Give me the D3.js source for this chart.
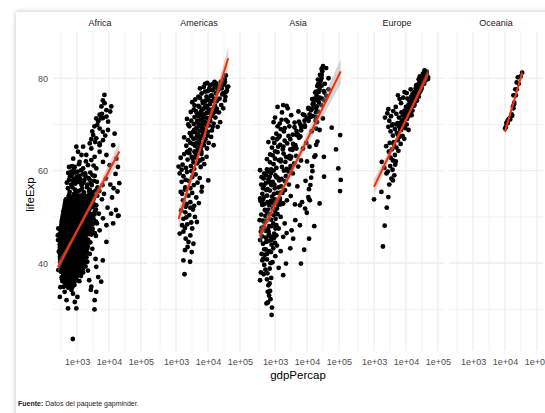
<!DOCTYPE html>
<html>
<head>
<meta charset="utf-8">
<script src="https://cdn.jsdelivr.net/npm/d3@7"></script>
<style>
  body { margin: 0; background: #fff; font-family: "Liberation Sans", Arial, sans-serif; overflow: hidden; }
  #card { position: absolute; left: 16px; top: 12px; width: 580px; height: 440px; background: #fff; box-shadow: 0 0 5px rgba(0,0,0,0.25); }
  #chart { position: absolute; left: 0; top: 0; }
</style>
</head>
<body>
<div id="card"></div>
<div id="chart"></div>
<script>
// gapminder: [gdpPercap, lifeExp]
const continents = ["Africa", "Americas", "Asia", "Europe", "Oceania"];

const africa = [
  [7200,76.4],[6400,75.2],[7300,74.6],[5800,73.9],[8300,73.1],[11800,73.9],[5100,72.1],[6500,71.4],[4000,71.3],[4600,70.7],[8300,71.7],[9400,70.6],[10900,72.8],[6000,72.3],[5600,71.3],
  [3500,69.6],[5100,69.1],[6400,68.4],[3200,67.7],[4000,67.0],[6500,66.6],[9300,68.8],[15000,68.0],[2500,65.9],[5100,65.5],[3000,68.5],[4300,69.9],[2800,66.8],[7600,67.6],[3700,66.2],
  [950,65.2],[1550,65.2],[1070,64.1],[1950,63.4],[2800,64.8],[5100,64.1],[8300,63.4],[13500,65.5],[17000,62.6],[19000,60.8],[10500,61.2],[760,62.6],[1200,61.9],[660,59.8],[3550,63.0],[6500,61.9],[2200,61.2],[850,60.8],[1550,60.5],[4000,60.5],[2800,62.3],[1380,63.4],[5100,65.9],
  [530,59.5],[600,58.7],[700,59.1],[800,58.2],[900,59.6],[1000,57.8],[1150,58.9],[1300,57.4],[1500,59.2],[1700,58.0],[2300,58.4],[2700,57.2],[3100,59.0],[4200,57.6],[6300,56.9],[8000,58.3],[16000,59.3],[21000,57.3],[18500,55.5],[14000,56.2],[5000,55.6],[7000,55.0],[11000,57.0],[4400,56.4],
  [480,57.4],[560,58.0],[650,57.0],[740,57.8],[880,57.2],[960,58.6],[1100,57.6],[1250,58.2],[1400,56.8],[1600,57.4],[1850,58.8],[2100,57.0],[2500,58.0],[2900,56.9],[3400,57.8],[620,59.6],[780,60.2],[1050,59.8],[1350,60.1],[1800,59.4],[2600,59.6],[3600,58.9],[700,61.0],[1150,61.4],[1900,62.0],[560,60.8],[3300,61.1],
  [520,56.2],[720,56.4],[860,55.9],[1200,55.7],[1430,56.1],[2050,56.4],[2500,55.9],[3800,55.7],
  [590,55.4],[980,55.6],[1650,55.3],[2400,55.5],[3000,55.3],
  [570,54.7],[800,54.9],[950,55.3],[1130,54.6],[1600,54.8],[2350,54.7],[3500,54.6],
  [555,54.6],[660,54.3],[780,54.5],[930,54.7],[1100,54.3],[1310,54.6],[1570,54.4],[1900,54.5],[2300,54.3],[2800,54.6],
  [450,53.8],[540,54.2],[640,53.7],[760,54.1],[900,53.6],[1080,54.0],[1280,53.7],[1530,54.2],[1850,53.8],[2250,54.1],[2750,53.6],[3300,53.9],
  [435,53.4],[520,53.6],[620,53.3],[735,53.5],[875,53.7],[1040,53.4],[1240,53.5],[1490,53.3],[1800,53.6],[2200,53.4],[2700,53.5],
  [420,52.9],[500,53.2],[600,52.7],[710,53.1],[850,52.8],[1010,53.3],[1210,52.6],[1450,53.0],[1750,52.7],[2150,53.2],[2650,52.8],[3200,53.0],
  [410,52.4],[485,52.6],[580,52.3],[690,52.5],[825,52.7],[985,52.4],[1180,52.5],[1410,52.3],[1700,52.6],[2080,52.4],[2550,52.5],[3700,52.6],
  [400,51.9],[470,52.2],[560,51.7],[670,52.1],[800,51.8],[960,52.3],[1150,51.6],[1380,52.0],[1660,51.7],[2000,52.2],[2450,51.8],[3050,52.1],
  [385,51.4],[455,51.6],[545,51.3],[650,51.5],[775,51.6],[930,51.3],[1110,51.5],[1340,51.4],[1610,51.6],[1950,51.3],[2380,51.5],
  [370,51.1],[440,50.8],[530,51.2],[630,50.7],[750,51.0],[900,50.6],[1080,51.2],[1300,50.8],[1560,51.1],[1900,50.7],[2300,51.0],[2900,50.6],[3600,51.2],
  [360,50.4],[430,50.6],[515,50.3],[615,50.5],[730,50.6],[875,50.4],[1050,50.5],[1265,50.3],[1520,50.6],[1850,50.4],[2250,50.5],[2820,50.3],[3500,50.5],
  [350,49.9],[420,50.2],[500,49.7],[600,50.1],[710,49.8],[850,50.3],[1020,49.6],[1230,50.0],[1480,49.7],[1800,50.2],[2200,49.8],[2750,50.1],
  [340,49.4],[410,49.6],[490,49.3],[585,49.5],[695,49.6],[830,49.4],[995,49.5],[1200,49.3],[1445,49.6],[1750,49.4],[2150,49.5],[2680,49.3],[3320,49.5],
  [330,49.0],[400,48.7],[480,49.2],[570,48.8],[680,49.1],[810,48.6],[970,49.0],[1170,48.7],[1410,49.2],[1700,48.8],[2100,49.1],[2600,48.6],[3900,49.0],
  [325,48.4],[392,48.6],[470,48.3],[560,48.5],[665,48.6],[795,48.4],[950,48.5],[1145,48.3],[1380,48.6],[1665,48.4],[2050,48.5],[2550,48.3],[3170,48.5],
  [320,47.8],[385,48.1],[460,47.7],[550,48.2],[650,47.9],[780,48.3],[930,47.6],[1120,48.0],[1350,47.7],[1630,48.2],[2000,47.8],[2500,48.1],
  [315,47.4],[378,47.6],[450,47.3],[538,47.5],[640,47.6],[765,47.4],[915,47.5],[1100,47.3],[1325,47.6],[1600,47.4],[1960,47.5],[2450,47.3],[3050,47.5],
  [310,47.1],[370,46.8],[440,47.2],[525,46.7],[630,47.0],[750,46.6],[900,47.2],[1080,46.8],[1300,47.1],[1570,46.7],[1920,47.0],[2400,46.6],[3000,47.2],
  [305,46.4],[365,46.6],[435,46.3],[518,46.5],[620,46.6],[740,46.4],[885,46.5],[1065,46.3],[1280,46.6],[1545,46.4],[1885,46.5],[2350,46.3],
  [300,46.0],[360,46.3],[430,45.8],[510,46.2],[610,45.9],[730,46.4],[870,45.7],[1050,46.1],[1260,45.8],[1520,46.3],[1850,45.9],[2800,46.2],
  [298,45.4],[355,45.6],[425,45.3],[505,45.5],[600,45.6],[720,45.4],[860,45.5],[1035,45.3],[1245,45.6],[1500,45.4],[1825,45.5],
  [295,44.9],[350,45.2],[420,44.7],[500,45.1],[590,44.8],[710,45.3],[850,44.6],[1020,45.0],[1230,44.7],[1480,45.2],[1800,44.8],[2200,45.1],
  [345,44.6],[415,44.3],[492,44.5],[585,44.6],[700,44.4],[840,44.5],[1005,44.3],[1210,44.6],[1460,44.4],[1775,44.5],[2175,44.3],
  [290,44.1],[340,43.8],[410,44.2],[485,43.7],[580,44.0],[690,43.6],[830,44.2],[990,43.8],[1190,44.1],[1440,43.7],[1750,44.0],[2150,43.6],
  [290,43.4],[338,43.6],[405,43.3],[480,43.5],[572,43.6],[682,43.4],[820,43.5],[980,43.3],[1175,43.6],[1420,43.4],[1725,43.5],
  [290,42.9],[335,43.2],[400,42.7],[475,43.1],[565,42.8],[675,43.3],[810,42.6],[970,43.0],[1160,42.7],[1400,43.2],[1700,42.8],[2080,43.1],
  [332,42.6],[398,42.3],[472,42.5],[560,42.6],[668,42.4],[800,42.5],[960,42.3],[1150,42.6],[1385,42.4],[1675,42.5],[2040,42.3],
  [290,42.1],[330,41.8],[395,42.2],[470,41.7],[555,42.0],[660,41.6],[790,42.2],[950,41.8],[1140,42.1],[1370,41.7],[1650,42.0],
  [292,41.4],[332,41.6],[395,41.3],[468,41.5],[552,41.6],[655,41.4],[785,41.5],[940,41.3],[1125,41.6],[1355,41.4],[1635,41.5],[1975,41.3],
  [295,40.9],[335,41.2],[395,40.7],[465,41.1],[550,40.8],[650,41.3],[780,40.6],[930,41.0],[1110,40.7],[1340,41.2],[1620,40.8],
  [298,40.4],[338,40.6],[398,40.3],[468,40.5],[550,40.6],[650,40.4],[775,40.5],[925,40.3],[1100,40.6],[1320,40.4],[1600,40.5],[1925,40.3],
  [300,40.1],[340,39.8],[400,40.2],[470,39.7],[550,40.0],[650,39.6],[770,40.2],[920,39.8],[1090,40.1],[1300,39.7],[1580,40.0],
  [305,39.4],[345,39.6],[405,39.3],[475,39.5],[555,39.6],[655,39.4],[775,39.5],[920,39.3],[1085,39.6],[1290,39.4],[1555,39.5],[1850,39.3],
  [310,38.9],[350,39.2],[410,38.7],[480,39.1],[560,38.8],[660,39.3],[780,38.6],[920,39.0],[1080,38.7],[1280,39.2],[1530,38.8],
  [315,38.4],[360,38.6],[420,38.3],[490,38.5],[570,38.6],[670,38.4],[790,38.5],[930,38.3],[1090,38.6],[1290,38.4],
  [320,38.1],[370,37.8],[430,38.2],[500,37.7],[580,38.0],[680,37.6],[800,38.2],[940,37.8],[1100,38.1],[1300,37.7],[1550,38.0],
  [380,37.6],[440,37.3],[510,37.5],[590,37.6],[690,37.4],[810,37.5],[950,37.3],[1110,37.6],
  [330,36.9],[390,37.2],[450,36.7],[520,37.1],[600,36.8],[700,37.3],[820,36.6],[960,37.0],[1330,37.2],
  [400,36.6],[465,36.3],[535,36.5],[620,36.6],[720,36.4],[840,36.5],[980,36.3],
  [350,36.1],[410,35.8],[480,36.2],[550,35.7],[640,36.0],[740,35.6],[860,36.2],[1180,36.1],
  [380,34.9],[450,35.2],[530,34.7],[610,35.1],[710,34.8],[830,35.3],
  [4000,52.5],[4800,50.7],[6000,53.8],[9000,52.0],[12500,54.2],[20000,50.3],[16500,51.5],[19000,50.2],[11700,50.7],[4300,54.6],[3900,51.6],
  [6500,49.7],[8300,48.2],[13500,48.6],[5100,47.1],[3900,45.9],[4200,48.6],[3600,46.5],[260,47.5],[250,46.0],[255,45.0],[290,46.4],
  [8300,44.6],[6400,40.6],[3000,43.1],[3800,40.9],[2600,44.5],[2500,42.0],
  [4000,39.2],[4600,37.0],[5700,36.0],[2800,34.9],[2200,38.4],[2400,36.3],[2100,40.3],
  [290,32.7],[470,32.0],[525,30.2],[950,30.2],[850,31.6],[3550,32.0],[3520,30.0],[4000,33.8],[410,33.8],[750,33.4],[670,34.2],[300,34.8],[1030,32.7],[2700,34.2],[340,36.5],[260,38.5],[270,42.5],
  [737,23.6]
];

const americas = [
  [36300,80.6],[33300,79.8],[8100,78.8],[9500,79.0],[11500,78.5],[16000,79.2],[19500,78.1],[33900,79.2],[39800,78.1],[42900,78.2],[39000,77.3],[36300,77.0],
  [5600,77.8],[6300,76.7],[5000,76.0],[8100,77.1],[14200,77.4],[17800,76.7],[24500,78.4],[11000,77.8],[7400,78.1],[13000,76.3],[9000,76.0],[15500,75.6],[33900,75.2],[35000,76.0],[28000,76.5],[22000,77.6],
  [2900,72.7],[3200,74.8],[3600,73.2],[4000,75.4],[4500,72.4],[5000,74.0],[5600,75.7],[6300,73.0],[7000,74.6],[7800,72.2],[8700,75.2],[9600,73.6],[10500,72.6],[11600,74.4],[13000,73.2],[14600,72.4],[16500,74.0],[19000,73.4],[22000,72.6],[26000,74.2],[30000,73.5],[4200,72.9],[6600,72.1],[5400,73.8],[8200,73.8],[3800,74.1],[12000,75.0],[9000,72.5],[20000,75.4],
  [2200,71.2],[2600,69.6],[3000,70.8],[3400,68.4],[3800,71.6],[4300,69.2],[4800,70.4],[5400,68.6],[6000,71.0],[6700,69.4],[7500,70.6],[8400,68.9],[9400,71.4],[10500,69.8],[11800,70.8],[13200,68.7],[15000,70.2],[17000,71.5],[20000,69.5],[24000,70.5],[2700,68.1],[3600,70.1],[5100,71.8],[7100,68.2],[9000,69.9],[4000,68.3],[6200,70.0],[12500,71.8],[2400,70.0],
  [1800,67.2],[2100,65.4],[2400,66.6],[2700,64.5],[3000,67.5],[3400,65.8],[3800,64.2],[4200,67.0],[4700,65.0],[5300,66.3],[5900,64.7],[6600,67.6],[7400,65.5],[8300,66.8],[9300,64.8],[10500,66.0],[12500,67.3],[15000,65.5],[2300,64.1],[3500,66.9],[5000,67.8],[6200,64.1],[4400,66.0],[2800,66.0],
  [3100,63.0],[4300,62.8],[5600,62.2],[3500,61.8],[4800,64.4],[6200,63.6],[7000,65.8],[3900,65.4],[5600,65.6],[4500,67.4],[5800,67.0],[7600,66.4],[9800,67.6],[3700,68.8],[5000,69.6],[6400,68.8],[8000,70.2],[10000,68.4],[4600,70.8],[7000,71.4],[8800,70.4],[11000,71.1],[14000,69.5],[5900,72.6],[7300,73.4],[9200,74.0],[10800,73.0],[12800,72.0],[15500,73.7],[17500,72.8],[6800,75.0],[8000,74.9],[10200,75.4],[12200,76.2],[14000,75.1],[18500,75.0],[23000,75.6],[9800,77.2],[12300,77.5],[16200,78.0],[20500,77.3],[27000,77.8],[31000,78.6],[25000,79.2],[30000,76.8],[18000,78.9],[14000,78.7],
  [1201,60.9],[1400,62.8],[1600,61.3],[1800,63.6],[2050,60.6],[2300,62.4],[2600,63.8],[2900,61.0],[3300,62.6],[3700,60.4],[4100,63.2],[4600,61.6],[5200,63.9],[5900,60.8],[6700,62.5],[7600,61.4],[9000,63.0],[2200,64.0],[3900,64.0],[1500,60.2],
  [1300,59.4],[1500,57.6],[1700,58.8],[1950,56.4],[2200,59.7],[2500,57.8],[2800,56.2],[3200,58.6],[3600,56.9],[4100,59.2],[4700,57.4],[5500,58.4],[10200,57.9],[2000,58.0],[3000,59.9],[6500,56.5],
  [1400,55.4],[1650,53.6],[1900,55.9],[2150,52.8],[2450,54.6],[2800,53.2],[3200,55.2],[3700,52.4],[4300,54.2],[5200,53.0],[6300,55.5],[2000,52.2],[1550,55.0],
  [1450,51.4],[1700,49.6],[1950,51.0],[2250,48.4],[2600,50.4],[3000,48.8],[3400,51.6],[3900,50.0],[4500,48.9],[2100,49.9],[1550,48.2],[2800,52.0],
  [1300,46.4],[1700,46.8],[2000,45.3],[2450,44.6],[3500,44.2],[1900,47.6],[2800,46.0],[3200,47.5],
  [1900,42.8],[3100,42.4],[1700,40.6],[2750,40.3],[1840,37.6],[2300,43.5]
];

const asia = [
  [3217,63.0],[4318,65.5],[6577,68.7],[9848,71.4],[14779,73.4],[16610,75.4],[19384,77.1],[22376,78.7],[26825,79.4],[28817,80.7],[28605,82.0],[31656,82.6],
  [3054,61.0],[3629,64.8],[4693,67.7],[6198,70.0],[8316,72.0],[11186,73.6],[14561,75.5],[20038,76.2],[24758,77.6],[28378,80.0],[30209,81.5],[39725,82.2],
  [2315,60.4],[2843,63.2],[3675,65.8],[4977,67.9],[8597,69.5],[11210,70.8],[15169,71.8],[18862,73.6],[24769,75.8],[33519,77.2],[36023,78.8],[47143,80.0],
  [108382,55.6],[113523,58.0],[95458,60.5],[80895,64.6],[109348,67.7],[59265,69.3],[31354,71.3],[28118,74.2],[34932,75.2],[40301,76.2],[35110,76.9],[47307,77.6],
  [6460,39.9],[8157,42.9],[11626,45.3],[16903,48.0],[24837,52.9],[34168,58.7],[33693,63.0],[21199,66.3],[24841,68.8],[20586,70.5],[19014,71.6],[21655,72.8],
  [9867,50.9],[11636,53.8],[12753,56.9],[14805,59.9],[18269,63.3],[19340,65.6],[19211,69.1],[18524,70.8],[19036,72.6],[20292,73.9],[23404,74.8],[29796,75.6],
  [4087,65.4],[5127,67.8],[6680,69.4],[8394,70.8],[12787,71.6],[13306,73.1],[15367,74.5],[17122,75.6],[18051,76.9],[20897,78.3],[21906,79.7],[25523,80.7],
  [1031,47.5],[1488,52.7],[1536,55.3],[2029,57.7],[3031,62.6],[4657,64.8],[5623,67.1],[8533,69.8],[12104,72.2],[15994,74.6],[19234,77.0],[23348,78.6],
  [1207,58.5],[1508,62.4],[1823,65.2],[2644,67.5],[4063,69.4],[5597,70.6],[7426,72.2],[11054,73.4],[15216,74.3],[20207,75.3],[23235,77.0],[28718,78.4],
  [11000,54.3],[12300,53.6],[6000,52.5],[8700,51.8],[4300,49.3],[6000,48.2],[3300,47.1],[1800,45.7],[3700,45.3],[3000,43.2],[2200,39.9],[1800,37.4],
  [14000,68.5],[12000,65.2],[17000,63.0],[14500,61.0],[13500,58.5],[10000,62.0],[9500,66.0],[11500,56.0],
  [1000,71.5],[1200,73.8],[1400,70.2],[1650,72.6],[1900,68.5],[2200,71.0],[2500,73.5],[2800,69.6],[3200,72.0],[3600,67.8],[4100,70.4],[4700,68.6],[5400,72.8],[6200,67.4],[1100,68.0],[1300,67.2],[1800,74.2],[2300,74.0],[3000,66.8],[900,70.5],[1500,69.0],
  [620,66.2],[700,63.5],[800,65.0],[900,61.4],[1000,64.2],[1150,66.8],[1300,62.3],[1450,65.6],[1650,60.8],[1850,63.7],[2100,61.9],[2400,65.9],[2700,62.8],[3100,60.5],[3500,64.5],[4000,61.6],[4600,63.2],[5300,60.9],[6500,62.2],[7500,64.8],[750,60.3],[1100,60.6],[560,62.5],[1250,65.2],[2000,66.5],[850,67.0],
  [700,61.8],[850,63.3],[1000,62.6],[1200,64.0],[1500,62.0],[1750,64.6],[950,66.0],[1200,69.6],[1600,71.0],[2000,69.2],[2500,70.6],[1400,67.5],[2200,63.0],[3000,64.6],[2600,59.8],[1900,60.0],
  [340,60.1],[380,58.6],[420,56.2],[460,59.4],[510,57.3],[560,54.6],[620,58.1],[690,55.7],[760,53.4],[840,57.6],[930,55.0],[1030,59.0],[1150,53.2],[1280,56.4],[1420,54.0],[1600,58.2],[1800,52.9],[2050,55.8],[2350,53.6],[2700,57.0],[3100,54.5],[3600,59.4],[4200,52.7],[5000,56.6],[7000,53.2],[9000,57.8],[350,53.5],[400,55.0],[470,52.8],[600,59.8],[900,60.0],
  [370,57.0],[440,58.3],[530,55.8],[650,57.5],[740,59.4],[880,53.0],[980,56.2],[1100,58.6],[1350,57.9],[1700,55.2],[2200,58.8],[420,53.8],[560,60.3],[760,56.9],
  [450,56.8],[520,59.0],[580,56.0],[680,58.7],[800,54.4],[950,57.0],[1200,55.2],[1550,56.6],
  [340,54.0],[370,50.5],[400,52.6],[440,47.8],[480,51.5],[530,49.2],[580,53.2],[630,46.8],[700,50.6],[770,48.0],[850,52.0],[940,46.4],[1040,49.6],[1150,51.8],[1300,47.5],[1500,50.0],[1750,52.9],[2000,48.6],[2300,46.5],[360,46.8],[420,49.2],[520,45.5],[660,52.6],[330,49.3],[1000,53.8],[450,54.3],
  [390,53.0],[470,48.8],[560,51.0],[740,53.4],[820,45.6],[900,50.4],[1100,48.2],[1250,52.6],[600,47.4],[380,47.6],
  [500,50.2],[620,51.6],[750,49.4],[880,48.6],[1000,51.2],[1200,50.6],[1400,53.4],[650,48.0],[400,45.8],[460,43.0],[560,42.0],[640,46.2],[760,45.0],[1000,44.4],[430,41.0],[500,47.0],
  [340,45.0],[380,42.0],[420,44.2],[460,39.6],[510,43.0],[560,40.8],[620,44.8],[680,38.8],[750,42.4],[830,40.2],[920,45.4],[1020,41.5],[1150,43.8],[1300,39.0],[1500,42.6],[360,38.0],[440,37.6],[580,37.8],[780,44.0],[340,36.3],[700,45.8],
  [400,40.6],[480,41.8],[530,44.6],[650,42.6],[720,40.0],[880,43.2],[1100,46.0],[500,38.6],
  [560,36.5],[620,35.2],[700,34.0],[760,36.8],[650,33.0],[720,32.2],[600,31.5],[540,31.3],[800,30.4],[780,28.8],[680,35.6],[590,33.8]
];

const europe = [
  [38000,81.7],[42000,81.2],[36000,80.9],[45000,80.7],[33000,80.5],[40000,80.2],[30000,80.0],[48000,79.8],[35000,79.6],[28000,79.4],[32000,79.1],[26000,79.0],[37000,78.8],[24000,78.6],[29000,78.4],[22000,78.2],[31000,78.0],[34000,81.0],[27000,80.4],[49357,80.2],[25000,79.8],[21000,78.5],
  [32000,78.7],[27000,77.9],[23500,76.6],[20500,75.0],[17500,74.0],[29000,79.9],[36500,80.0],[41000,79.5],[44000,81.4],[39000,81.5],
  [30000,78.9],[33500,79.9],[38500,80.6],[41500,80.9],[26500,78.2],[23500,77.9],[21500,77.0],[19500,76.5],[17000,76.0],[15500,75.4],[13800,74.7],[12200,73.5],[11000,73.0],[10000,72.6],[13500,74.0],[16500,74.8],[24500,77.3],[28500,78.0],[35500,79.2],[43000,80.1],[9000,71.8],[8300,70.9],[7300,69.9],[6500,69.0],[5600,67.8],
  [20000,77.8],[23000,77.4],[18000,77.0],[26000,76.8],[16000,76.6],[21000,76.3],[14500,76.0],[19000,75.8],[28000,77.2],[17000,75.4],[13000,75.0],[22000,75.2],[15000,74.6],[12000,74.3],[18500,74.2],[11000,75.6],[25000,76.0],[5600,76.3],[6300,75.5],[7000,74.6],[9000,77.0],[10500,76.8],[8200,75.8],[30000,77.6],[14000,77.6],
  [10000,73.8],[11500,73.2],[13000,72.6],[9500,72.4],[12000,71.8],[10800,71.2],[8900,70.8],[14000,73.6],[16000,73.0],[8000,72.0],[7500,71.0],[9000,73.0],[6800,70.4],[7200,72.6],[2200,71.5],[2600,72.4],[3000,70.8],[3400,71.8],[4000,72.9],[4800,73.8],[5500,70.3],[6000,71.5],[2800,73.3],[3800,70.0],[5000,72.3],
  [11000,72.2],[12500,73.9],[15000,72.0],[9800,71.5],
  [6000,69.6],[7000,68.8],[8000,69.8],[5200,68.2],[9500,69.2],[10500,70.0],[6500,67.4],[4500,69.0],[3900,67.6],[5500,66.6],[7800,67.5],[3300,68.5],[4200,66.2],[12000,68.8],[2800,69.5],[3600,69.8],[8800,66.9],[4900,70.0],
  [4200,65.6],[3600,64.6],[5000,65.0],[4500,63.4],[3300,62.8],[2900,64.1],[5800,64.3],[3900,62.2],[6800,65.8],[2400,65.3],[1750,61.9],[3100,66.0],[4800,62.0],
  [3200,61.0],[3800,60.2],[2700,59.8],[4300,59.0],[2450,59.4],[3500,58.3],[3900,57.9],[3000,57.0],[2100,60.6],[4600,61.3],
  [1700,55.4],[1000,53.8],[2800,54.3],[2500,52.0],[2150,48.1],[1900,43.6]
];

const oceania = [
  [10040,69.1],[10950,70.3],[12217,70.9],[14526,71.1],[16789,71.9],[18334,73.5],[19477,74.7],[21889,76.3],[23425,77.6],[26998,78.8],[30688,80.4],[34435,81.2],
  [10557,69.4],[12247,70.3],[13176,71.2],[14464,71.5],[16046,71.9],[16234,72.2],[17632,73.8],[19007,74.3],[18363,76.3],[21050,77.6],[23190,79.1],[25185,80.2]
];

// lm(lifeExp ~ log10(gdpPercap)) per continent
const fitIntercept = [7.96, -19.44, 10.56, 13.0, -26.8];
const fitSlope = [13.0, 22.4, 14.03, 14.5, 23.8];

const xTicks = [1e3, 1e4, 1e5];
const yTicks = [40, 60, 80];
const caption = ["Fuente:", " Datos del paquete gapminder."];

class FacetChart {
  constructor(_config, _data) {
    this.config = {
      parentElement: _config.parentElement,
      containerWidth: _config.containerWidth || 545,
      containerHeight: _config.containerHeight || 413,
      margin: _config.margin || { top: 32, left: 53 },
      panelWidth: _config.panelWidth || 94,
      panelHeight: _config.panelHeight || 319,
      panelGap: _config.panelGap || 5,
    };
    this.data = _data;
    this.initVis();
  }

  initVis() {
    let vis = this;
    const c = vis.config;

    vis.svg = d3
      .select(c.parentElement)
      .append("svg")
      .attr("width", c.containerWidth)
      .attr("height", c.containerHeight)
      .style("font-family", '"Liberation Sans", Arial, sans-serif');

    vis.xScale = d3
      .scaleLog()
      .domain([10 ** 2.248, 10 ** 5.189])
      .range([0, c.panelWidth]);

    vis.yScale = d3
      .scaleLinear()
      .domain([21, 90])
      .range([c.panelHeight, 0]);

    // minor breaks sit halfway between majors (in transformed space)
    vis.xMinor = d3.pairs([xTicks[0] / 10, ...xTicks]).map(([a, b]) => Math.sqrt(a * b));
    vis.yMinor = d3.pairs([yTicks[0] - 20, ...yTicks]).map(([a, b]) => (a + b) / 2);

    vis.renderVis();
  }

  // fitted line plus 95% band, evaluated across the panel's data range
  smooth(points, a, b) {
    const xs = points.map((d) => Math.log10(d[0]));
    const n = xs.length;
    const mx = d3.mean(xs);
    const sxx = d3.sum(xs, (x) => (x - mx) ** 2);
    const s = Math.sqrt(d3.sum(points, (d, i) => (d[1] - a - b * xs[i]) ** 2) / (n - 2));
    const t = 1.96 + 2.5 / (n - 2);
    const [x0, x1] = d3.extent(xs);
    return d3.range(80).map((i) => {
      const x = x0 + ((x1 - x0) * i) / 79;
      const y = a + b * x;
      const se = s * Math.sqrt(1 / n + (x - mx) ** 2 / sxx);
      return { gdp: 10 ** x, y: y, lo: y - t * se, hi: y + t * se };
    });
  }

  renderVis() {
    let vis = this;
    const c = vis.config;

    const panels = vis.svg
      .selectAll(".panel")
      .data(continents)
      .enter()
      .append("g")
      .attr("class", "panel")
      .attr(
        "transform",
        (d, i) => `translate(${c.margin.left + i * (c.panelWidth + c.panelGap)},${c.margin.top})`
      );

    panels.each(function (name, i) {
      const g = d3.select(this);
      const pts = vis.data[name];

      // grid
      g.selectAll(".vminor").data(vis.xMinor).enter().append("line")
        .attr("x1", (d) => vis.xScale(d)).attr("x2", (d) => vis.xScale(d))
        .attr("y1", 0).attr("y2", c.panelHeight)
        .attr("stroke", "#f0f0f0").attr("stroke-width", 0.9);
      g.selectAll(".hminor").data(vis.yMinor).enter().append("line")
        .attr("y1", (d) => vis.yScale(d)).attr("y2", (d) => vis.yScale(d))
        .attr("x1", 0).attr("x2", c.panelWidth)
        .attr("stroke", "#f0f0f0").attr("stroke-width", 0.9);
      g.selectAll(".vmajor").data(xTicks).enter().append("line")
        .attr("x1", (d) => vis.xScale(d)).attr("x2", (d) => vis.xScale(d))
        .attr("y1", 0).attr("y2", c.panelHeight)
        .attr("stroke", "#ebebeb").attr("stroke-width", 1.1);
      g.selectAll(".hmajor").data(yTicks).enter().append("line")
        .attr("y1", (d) => vis.yScale(d)).attr("y2", (d) => vis.yScale(d))
        .attr("x1", 0).attr("x2", c.panelWidth)
        .attr("stroke", "#ebebeb").attr("stroke-width", 1.1);

      // strip
      g.append("text")
        .attr("x", c.panelWidth / 2)
        .attr("y", -9)
        .attr("text-anchor", "middle")
        .attr("dominant-baseline", "central")
        .attr("font-size", 9)
        .attr("fill", "#1a1a1a")
        .text(name);

      // x axis
      const xAxis = d3
        .axisBottom(vis.xScale)
        .tickValues(xTicks)
        .tickSize(0)
        .tickPadding(8)
        .tickFormat((d) => "1e+" + String(Math.round(Math.log10(d))).padStart(2, "0"));
      const xa = g.append("g").attr("transform", `translate(0,${c.panelHeight})`).call(xAxis);
      xa.select(".domain").remove();
      xa.selectAll("text").attr("font-size", 9).attr("fill", "#4d4d4d").attr("font-family", null);

      if (i === 0) {
        const yAxis = d3.axisLeft(vis.yScale).tickValues(yTicks).tickSize(0).tickPadding(5);
        const ya = g.append("g").call(yAxis);
        ya.select(".domain").remove();
        ya.selectAll("text").attr("font-size", 9).attr("fill", "#4d4d4d").attr("font-family", null);
      }

      // points
      g.selectAll("circle")
        .data(pts)
        .enter()
        .append("circle")
        .attr("cx", (d) => vis.xScale(d[0]))
        .attr("cy", (d) => vis.yScale(d[1]))
        .attr("r", 2.4)
        .attr("fill", "black");

      // lm smooth with 95% band
      const line = vis.smooth(pts, fitIntercept[i], fitSlope[i]);
      g.append("path")
        .datum(line)
        .attr("fill", "#999999")
        .attr("fill-opacity", 0.4)
        .attr(
          "d",
          d3.area()
            .x((d) => vis.xScale(d.gdp))
            .y0((d) => vis.yScale(d.lo))
            .y1((d) => vis.yScale(d.hi))
        );
      g.append("path")
        .datum(line)
        .attr("fill", "none")
        .attr("stroke", "#ff2d0a")
        .attr("stroke-width", 2)
        .attr(
          "d",
          d3.line()
            .x((d) => vis.xScale(d.gdp))
            .y((d) => vis.yScale(d.y))
        );
    });

    // axis titles
    const totalW = continents.length * c.panelWidth + (continents.length - 1) * c.panelGap;
    vis.svg.append("text")
      .attr("x", c.margin.left + totalW / 2)
      .attr("y", 375)
      .attr("text-anchor", "middle")
      .attr("dominant-baseline", "central")
      .attr("font-size", 11.5)
      .attr("fill", "#000")
      .text("gdpPercap");

    vis.svg.append("text")
      .attr("transform", `translate(30,${c.margin.top + c.panelHeight / 2 + 3}) rotate(-90)`)
      .attr("text-anchor", "middle")
      .attr("dominant-baseline", "central")
      .attr("font-size", 11.5)
      .attr("fill", "#000")
      .text("lifeExp");

    const cap = vis.svg.append("text")
      .attr("x", 18)
      .attr("y", 406)
      .attr("font-size", 7)
      .attr("fill", "#222");
    cap.append("tspan").attr("font-weight", "bold").text(caption[0]);
    cap.append("tspan").text(caption[1]);
  }
}

new FacetChart(
  { parentElement: "#chart" },
  { Africa: africa, Americas: americas, Asia: asia, Europe: europe, Oceania: oceania }
);
</script>
</body>
</html>
